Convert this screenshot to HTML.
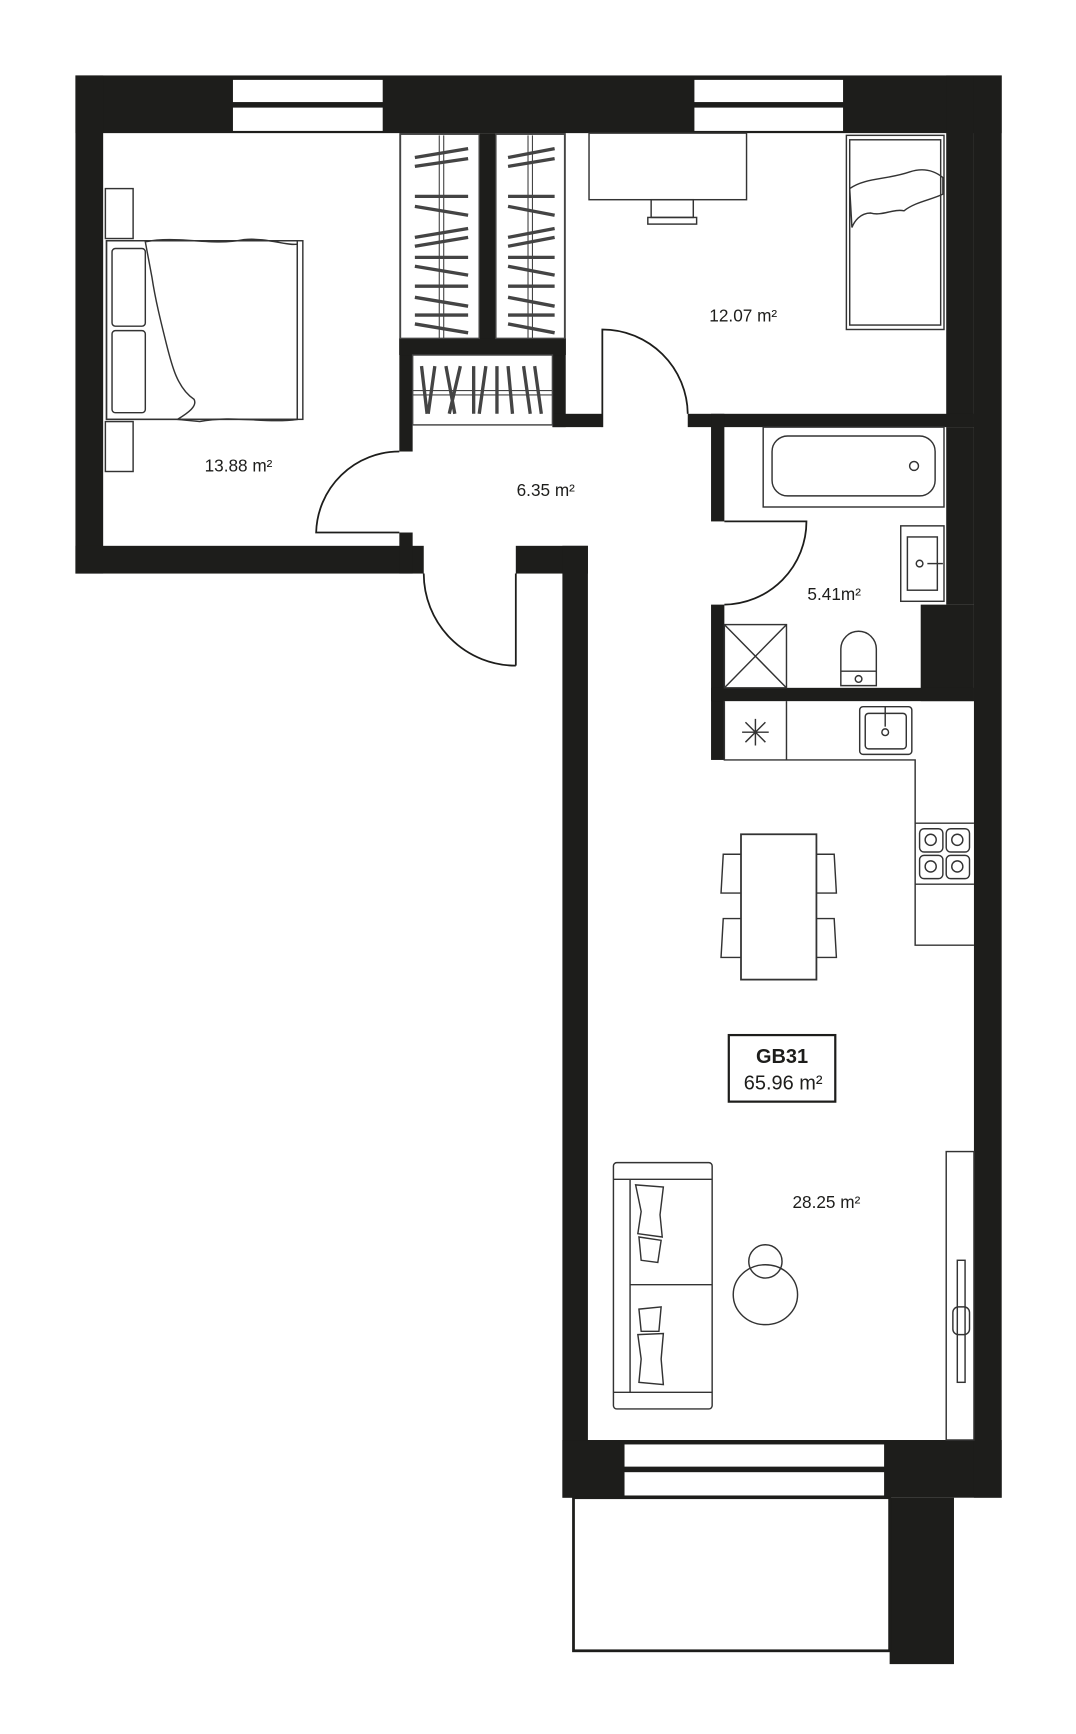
<!DOCTYPE html>
<html><head><meta charset="utf-8"><style>
html,body{margin:0;padding:0;background:#fff;}
svg{display:block;}
text{font-family:"Liberation Sans",sans-serif;fill:#1d1d1b;}
</style></head><body>
<svg width="1076" height="1734" viewBox="0 0 970 1563" preserveAspectRatio="none" xmlns="http://www.w3.org/2000/svg">
<g fill="#1d1d1b">
<rect x="68" y="68" width="835" height="52"/>
<rect x="68" y="68" width="25" height="449"/>
<rect x="68" y="492" width="314" height="25"/>
<rect x="465" y="492" width="65" height="25"/>
<rect x="507" y="492" width="23" height="858"/>
<rect x="507" y="1298" width="396" height="52"/>
<rect x="878" y="68" width="25" height="1282"/>
<rect x="853" y="68" width="25" height="317"/>
<rect x="853" y="385" width="25" height="160"/>
<rect x="830" y="545" width="48" height="87"/>
<rect x="620" y="373" width="258" height="12"/>
<rect x="641" y="373" width="12" height="97"/>
<rect x="641" y="545" width="12" height="140"/>
<rect x="641" y="620" width="237" height="12"/>
<rect x="360" y="120" width="150" height="200"/>
<rect x="360" y="305" width="12" height="102"/>
<rect x="498" y="305" width="12" height="80"/>
<rect x="360" y="305" width="150" height="15"/>
<rect x="498" y="373" width="45" height="12"/>
<rect x="360" y="480" width="12" height="37"/>
<rect x="802" y="1350" width="58" height="150"/>
</g>
<g fill="#fff">
<rect x="210" y="72" width="135" height="20"/><rect x="210" y="97" width="135" height="21"/>
<rect x="626" y="72" width="134" height="20"/><rect x="626" y="97" width="134" height="21"/>
<rect x="563" y="1302" width="234" height="20"/><rect x="563" y="1327" width="234" height="21"/>
</g>
<g fill="none" stroke="#1d1d1b" stroke-width="1.6">
<rect x="517" y="1350" width="285" height="138" stroke-width="2.5"/>
<path d="M360 407 A75 75 0 0 0 285 480 L360 480"/>
<path d="M465 600 L465 517 M382 517 A83 83 0 0 0 465 600"/>
<path d="M543 385 L543 297 A77 77 0 0 1 620 373"/>
<path d="M653 470 L727 470 A75 75 0 0 1 653 545"/>
</g>
<g fill="#fff" stroke="#444" stroke-width="1.3">
<rect x="361" y="121" width="71" height="184"/><rect x="447" y="121" width="62" height="184"/>
<rect x="372" y="320" width="126" height="63"/>
</g>
<g stroke="#444" stroke-width="3" fill="none">
<path d="M374 142 L422 134 M374 150 L422 143 M374 177 L422 177 M374 186 L422 194 M374 214 L422 206 M374 222 L422 214 M374 232 L422 232 M374 240 L422 248 M374 258 L422 258 M374 268 L422 276 M374 284 L422 284 M374 292 L422 300"/>
<path d="M458 142 L500 134 M458 150 L500 143 M458 177 L500 177 M458 186 L500 194 M458 214 L500 206 M458 222 L500 214 M458 232 L500 232 M458 240 L500 248 M458 258 L500 258 M458 268 L500 276 M458 284 L500 284 M458 292 L500 300"/>
<path d="M380 330 L385 373 M392 330 L386 373 M402 330 L410 373 M415 330 L405 373 M427 330 L427 373 M438 330 L432 373 M448 330 L448 373 M458 330 L462 373 M472 330 L478 373 M482 330 L488 373"/>
</g>
<g stroke="#444" stroke-width="1" fill="none"><path d="M396 122 V305 M400 122 V305 M476 122 V305 M480 122 V305 M372 352 H498 M372 356 H498"/></g>
<g fill="none" stroke="#333" stroke-width="1.3">
<rect x="95" y="170" width="25" height="45"/><rect x="95" y="380" width="25" height="45"/>
<rect x="96" y="217" width="177" height="161"/><rect x="96" y="217" width="172" height="161"/>
<rect x="101" y="224" width="30" height="70" rx="3"/><rect x="101" y="298" width="30" height="74" rx="3"/>
<path d="M131 218 C160 212 190 222 220 216 C240 214 260 222 268 220 L268 378 C240 382 210 374 180 380 L160 378 C170 372 178 366 175 360 C160 350 155 330 150 310 C145 290 140 270 137 250 Z"/>
<rect x="763" y="122" width="88" height="175"/><rect x="766" y="126" width="82" height="167"/>
<path d="M766 170 C780 160 800 162 820 155 C835 150 845 156 850 160 L850 175 C840 180 825 182 815 190 C805 188 795 195 785 192 C775 192 770 200 768 205 Z"/>
<rect x="531" y="120" width="142" height="60"/><rect x="587" y="180" width="38" height="16"/><rect x="584" y="196" width="44" height="6"/>
<rect x="688" y="385" width="163" height="72"/><rect x="696" y="393" width="147" height="54" rx="14"/><circle cx="824" cy="420" r="4"/>
<rect x="812" y="474" width="39" height="68"/><rect x="818" y="484" width="27" height="48"/><circle cx="829" cy="508" r="3"/><path d="M836 508 H850"/>
<rect x="653" y="563" width="56" height="57"/><path d="M653 563 L709 620 M709 563 L653 620"/>
<path d="M758 605 V585 A16 16 0 0 1 790 585 V605 Z M758 605 V618 H790 V605"/><circle cx="774" cy="612" r="3"/>
<path d="M653 632 V685 H825 V852 H878 M709 632 V685 M825 742 H878 M825 797 H878"/>
<rect x="775" y="637" width="47" height="43" rx="3"/><rect x="780" y="643" width="37" height="32" rx="3"/><circle cx="798" cy="660" r="3"/><path d="M798 637 V655"/>
<path d="M669 660 H693 M681 648 V672 M672 651 L690 669 M690 651 L672 669"/>
<rect x="829" y="747" width="21" height="21" rx="4"/><rect x="853" y="747" width="21" height="21" rx="4"/><rect x="829" y="771" width="21" height="21" rx="4"/><rect x="853" y="771" width="21" height="21" rx="4"/>
<circle cx="839" cy="757" r="5"/><circle cx="863" cy="757" r="5"/><circle cx="839" cy="781" r="5"/><circle cx="863" cy="781" r="5"/>
<rect x="668" y="752" width="68" height="131" stroke-width="1.6"/>
<path d="M668 770 H652 L650 805 H668 M668 828 H652 L650 863 H668 M736 770 H752 L754 805 H736 M736 828 H752 L754 863 H736"/>
<rect x="553" y="1048" width="89" height="222" rx="3"/><path d="M553 1063 H642 M553 1255 H642 M568 1063 V1255 M568 1158 H642"/>
<path d="M573 1068 L598 1070 L595 1095 L597 1115 L575 1112 L578 1092 Z M576 1115 L596 1118 L593 1138 L578 1136 Z M576 1180 L596 1178 L594 1200 L578 1200 Z M575 1203 L598 1202 L596 1225 L598 1248 L576 1246 L578 1225 Z"/>
<ellipse cx="690" cy="1167" rx="29" ry="27"/><circle cx="690" cy="1137" r="15"/>
<rect x="853" y="1038" width="25" height="260"/><rect x="863" y="1136" width="7" height="110"/><rect x="859" y="1178" width="15" height="25" rx="5"/>
</g>
<rect x="657" y="933" width="96" height="60" fill="none" stroke="#1d1d1b" stroke-width="2"/>
<g font-size="15.5" text-anchor="middle">
<text x="215" y="425">13.88 m²</text>
<text x="670" y="290">12.07 m²</text>
<text x="492" y="447">6.35 m²</text>
<text x="752" y="541">5.41m²</text>
<text x="745" y="1089">28.25 m²</text>
<text x="705" y="958" font-weight="bold" font-size="18">GB31</text>
<text x="706" y="982" font-size="18">65.96 m²</text>
</g>
</svg>
</body></html>
